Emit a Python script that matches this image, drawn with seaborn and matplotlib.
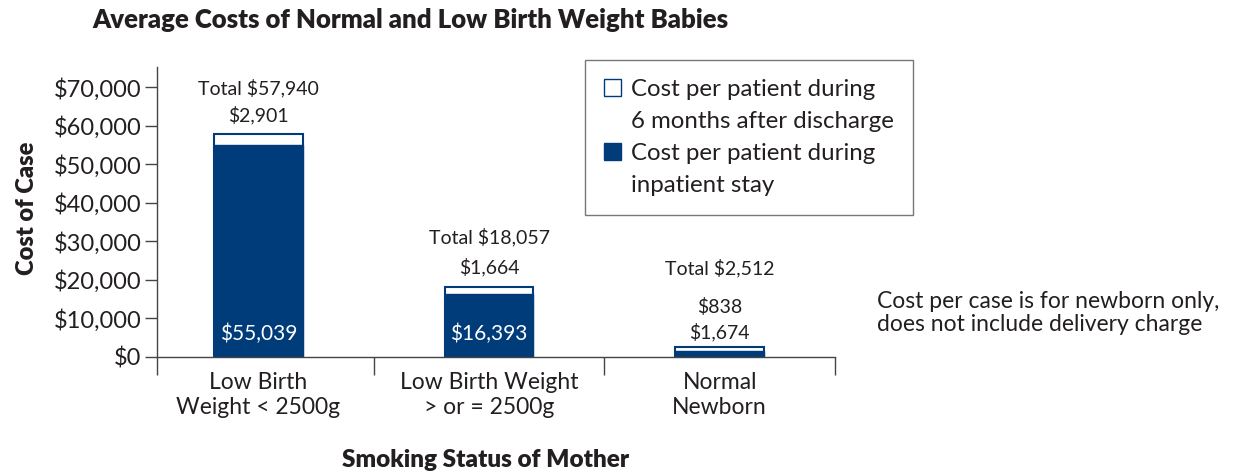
import pandas as pd
import numpy as np
import matplotlib.pyplot as plt
import matplotlib.patches as mpatches
import seaborn as sns

# data
categories = ['Low Birth\nWeight < 2500g', 'Low Birth Weight\n> or = 2500g', 'Normal\nNewborn']
inpatient = [55039, 16393, 1674]
after_discharge = [2901, 1664, 838]
totals = [a + b for a, b in zip(inpatient, after_discharge)]
y_ticks = [0, 10000, 20000, 30000, 40000, 50000, 60000, 70000]

navy = '#003B7A'
text_col = '#231F20'

sns.set_style('white')
plt.rcParams['font.family'] = ['Lato', 'DejaVu Sans']
plt.rcParams['text.color'] = text_col

df = pd.DataFrame({'cat': categories, 'total': totals, 'inpatient': inpatient})

fig = plt.figure(figsize=(12.4, 4.74), dpi=100)
ax = fig.add_axes([157 / 1240, 1 - 357 / 474, 678 / 1240, 290 / 474])

# total bar (white with outline), inpatient bar drawn on top
sns.barplot(data=df, x='cat', y='total', color='white', edgecolor=navy,
            linewidth=1.5, width=0.385, saturation=1, ax=ax)
sns.barplot(data=df, x='cat', y='inpatient', color=navy, edgecolor=navy,
            linewidth=1, width=0.385, saturation=1, ax=ax)

ax.set_xlim(-0.44, 2.5)
ax.set_ylim(0, 75300)
ax.set_yticks(y_ticks)
ax.set_yticklabels(['${:,}'.format(v) for v in y_ticks], fontsize=17, color=text_col)
ax.tick_params(axis='y', direction='out', length=9, width=1, color='#444', left=True, pad=2)
ax.tick_params(axis='x', length=0, labelsize=16.5, labelcolor=text_col, pad=11)
ax.set_xticks([-0.44, 0.5, 1.5, 2.5], minor=True)
ax.tick_params(axis='x', which='minor', direction='out', length=13, width=1, color='#444', bottom=True)
ax.set_xlabel('')
ax.set_ylabel('')
for s in ['top', 'right']:
    ax.spines[s].set_visible(False)
for s in ['left', 'bottom']:
    ax.spines[s].set_color('#444')
    ax.spines[s].set_linewidth(1)

# labels over and inside the bars
top_offsets = [(19, 46), (20, 50), (40, 79)]
for i in range(len(categories)):
    off_part, off_total = top_offsets[i]
    ax.annotate('Total ${:,}'.format(totals[i]), (i, totals[i]), xytext=(0, off_total),
                textcoords='offset pixels', ha='center', va='center', fontsize=14)
    ax.annotate('${:,}'.format(after_discharge[i]), (i, totals[i]), xytext=(0, off_part),
                textcoords='offset pixels', ha='center', va='center', fontsize=14)
    if inpatient[i] > 10000:
        ax.annotate('${:,}'.format(inpatient[i]), (i, 0), xytext=(0, 23),
                    textcoords='offset pixels', ha='center', va='center', fontsize=15, color='white')
    else:
        ax.annotate('${:,}'.format(inpatient[i]), (i, totals[i]), xytext=(0, 15),
                    textcoords='offset pixels', ha='center', va='center', fontsize=14)

# legend with the wrapped lines as their own rows
blank = mpatches.Patch(facecolor='none', edgecolor='none')
handles = [mpatches.Patch(facecolor='white', edgecolor=navy, linewidth=1), blank,
           mpatches.Patch(facecolor=navy, edgecolor=navy), blank]
labels = ['Cost per patient during', '6 months after discharge',
          'Cost per patient during', 'inpatient stay']
leg = fig.legend(handles, labels, loc='upper left', bbox_to_anchor=(585 / 1240, 1 - 60 / 474),
                 frameon=True, fancybox=False, edgecolor='#555', fontsize=17.3,
                 handlelength=0.7, handleheight=0.7, handletextpad=0.4,
                 labelspacing=0.45, borderpad=0.8, borderaxespad=0)
leg.get_frame().set_linewidth(1)

fig.text(92 / 1240, 1 - 20 / 474, 'Average Costs of Normal and Low Birth Weight Babies',
         fontsize=18.5, fontweight='heavy', ha='left', va='center')
fig.text(27 / 1240, 1 - 208 / 474, 'Cost of Case', rotation=90, fontsize=17,
         fontweight='heavy', ha='center', va='center')
fig.text(486 / 1240, 1 - 460 / 474, 'Smoking Status of Mother', fontsize=17.5,
         fontweight='heavy', ha='center', va='center')
fig.text(877 / 1240, 1 - 313 / 474, 'Cost per case is for newborn only,\ndoes not include delivery charge',
         fontsize=16.5, ha='left', va='center', linespacing=1.15)

fig.savefig('out.png', dpi=100)
